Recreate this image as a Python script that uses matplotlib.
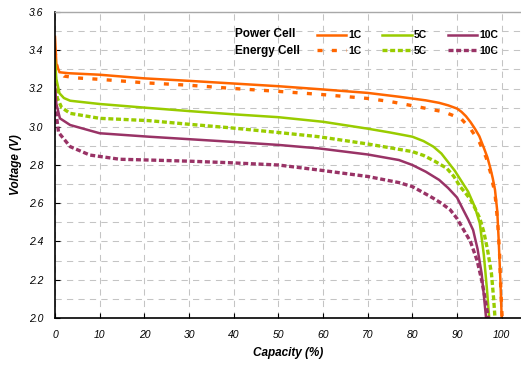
import matplotlib
matplotlib.use("Agg")
import matplotlib.pyplot as plt
from matplotlib.ticker import MultipleLocator

plt.rcParams['font.family'] = ['Liberation Sans', 'DejaVu Sans']

# capacity (%) / voltage (V)
p1_x = [0, 0.3, 1, 3, 10, 20, 30, 40, 50, 60, 70, 77, 83, 86, 88, 90, 91, 92, 93, 94, 95, 96, 96.8, 97.5, 98, 98.5, 99, 99.3, 99.7, 100]
p1_v = [3.47, 3.33, 3.285, 3.28, 3.272, 3.253, 3.24, 3.226, 3.212, 3.195, 3.177, 3.157, 3.138, 3.125, 3.112, 3.095, 3.078, 3.055, 3.025, 2.99, 2.95, 2.89, 2.84, 2.78, 2.73, 2.67, 2.56, 2.42, 2.2, 2.0]

e1_x = [0, 0.5, 2, 5, 10, 20, 30, 40, 50, 60, 70, 75, 80, 87, 89, 91, 92, 93, 94, 95, 96.5, 97.5, 98.5, 99.1, 99.5, 99.8, 100.1]
e1_v = [3.40, 3.30, 3.265, 3.255, 3.248, 3.23, 3.217, 3.20, 3.185, 3.168, 3.148, 3.132, 3.11, 3.078, 3.06, 3.04, 3.015, 2.99, 2.955, 2.92, 2.84, 2.76, 2.65, 2.5, 2.35, 2.15, 2.0]

p5_x = [0, 0.3, 1, 2, 3.4, 10, 20, 30, 40, 50, 60, 70, 75, 80, 82.5, 84.7, 86.5, 88, 89.5, 91, 92.5, 94, 95.1, 96.0, 96.7, 97.2]
p5_v = [3.35, 3.25, 3.175, 3.15, 3.136, 3.119, 3.10, 3.082, 3.065, 3.05, 3.026, 2.99, 2.97, 2.948, 2.925, 2.896, 2.86, 2.815, 2.77, 2.715, 2.66, 2.58, 2.495, 2.33, 2.15, 2.0]

e5_x = [0, 0.5, 1.5, 3.4, 10, 21, 30, 39, 50, 59, 70, 77, 80, 82.5, 85, 87.7, 89.3, 90.7, 92, 93, 94, 95.1, 96, 96.8, 97.7, 98.2, 98.5]
e5_v = [3.28, 3.15, 3.10, 3.07, 3.044, 3.032, 3.013, 2.995, 2.97, 2.948, 2.91, 2.882, 2.87, 2.85, 2.82, 2.783, 2.74, 2.687, 2.65, 2.62, 2.575, 2.521, 2.45, 2.36, 2.234, 2.1, 2.0]

p10_x = [0, 0.3, 1.1, 3.4, 10, 21, 30, 39, 50, 59, 70, 77, 80, 83, 86, 88, 90, 91.4, 92.5, 93.6, 94.6, 95.5, 96, 96.5]
p10_v = [3.22, 3.12, 3.044, 3.009, 2.966, 2.948, 2.935, 2.922, 2.905, 2.887, 2.855, 2.826, 2.80, 2.765, 2.722, 2.68, 2.63, 2.565, 2.515, 2.46, 2.36, 2.234, 2.12, 2.0]

e10_x = [0, 0.2, 0.8, 3.4, 7.8, 14.5, 21, 30, 39, 50, 59, 70, 77, 80, 82.5, 84.7, 86.5, 88.5, 90, 91, 93, 94.5, 95.5, 96.3, 97.0]
e10_v = [3.12, 3.08, 2.97, 2.896, 2.852, 2.83, 2.826, 2.82, 2.812, 2.80, 2.774, 2.74, 2.708, 2.687, 2.655, 2.626, 2.60, 2.565, 2.52, 2.48, 2.40, 2.3, 2.2, 2.1, 2.0]

orange = '#FF6600'
green = '#99CC00'
purple = '#993366'

fig = plt.figure(figsize=(5.21, 3.65), dpi=100)
ax = fig.add_axes([55 / 521, 47 / 365, 466.8 / 521, 306 / 365])

solid_lw = 1.8
dash_lw = 2.4
ax.plot(p1_x, p1_v, color=orange, lw=solid_lw, label='1C')
ax.plot(e1_x, e1_v, color=orange, lw=dash_lw, linestyle=(0, (1.5, 2.8)), label='1C')
ax.plot(p5_x, p5_v, color=green, lw=solid_lw, label='5C')
ax.plot(e5_x, e5_v, color=green, lw=dash_lw, linestyle=(0, (1.5, 0.8)), label='5C')
ax.plot(p10_x, p10_v, color=purple, lw=solid_lw, label='10C')
ax.plot(e10_x, e10_v, color=purple, lw=dash_lw, linestyle=(0, (1.5, 0.8)), label='10C')

ax.set_xlim(0, 104.5)
ax.set_ylim(2.0, 3.6)
ax.yaxis.set_major_locator(MultipleLocator(0.2))
ax.yaxis.set_minor_locator(MultipleLocator(0.1))
ax.set_xticks(range(0, 101, 10))
ax.yaxis.set_major_formatter(plt.FormatStrFormatter('%.1f'))

ax.grid(True, which='both', color='#c4c4c4', lw=0.75, linestyle=(0, (6, 5)))
ax.set_axisbelow(True)
ax.tick_params(which='major', direction='in', length=3.5, width=0.8, pad=8.5,
               labelsize=7.5, colors='black')
ax.tick_params(which='minor', length=0)
for lab in ax.get_xticklabels() + ax.get_yticklabels():
    lab.set_fontstyle('italic')

ax.spines['right'].set_visible(False)
ax.spines['top'].set_color('#a8a8a8')
ax.spines['top'].set_linewidth(1.0)
ax.spines['left'].set_linewidth(1.2)
ax.spines['bottom'].set_linewidth(1.2)

ax.set_xlabel('Capacity (%)', fontsize=8.5, fontweight='bold', fontstyle='italic')
ax.xaxis.set_label_coords(0.499, -0.095)
ax.set_ylabel('Voltage (V)', fontsize=8.5, fontweight='bold', fontstyle='italic')
ax.yaxis.set_label_coords(-0.07, 0.5)

leg = ax.legend(ncol=3, loc='upper left', bbox_to_anchor=(312 / 521, 1 - 25 / 365),
                bbox_transform=fig.transFigure, frameon=False, borderpad=0,
                handlelength=2.8, handletextpad=0.2, columnspacing=2.0,
                labelspacing=0.55, prop={'size': 7.5, 'weight': 'bold'})

fig.text(235 / 521, 1 - 34 / 365, 'Power Cell', fontsize=8.5, fontweight='bold', va='center')
fig.text(235 / 521, 1 - 51 / 365, 'Energy Cell', fontsize=8.5, fontweight='bold', va='center')

fig.savefig('out.png', dpi=100)
